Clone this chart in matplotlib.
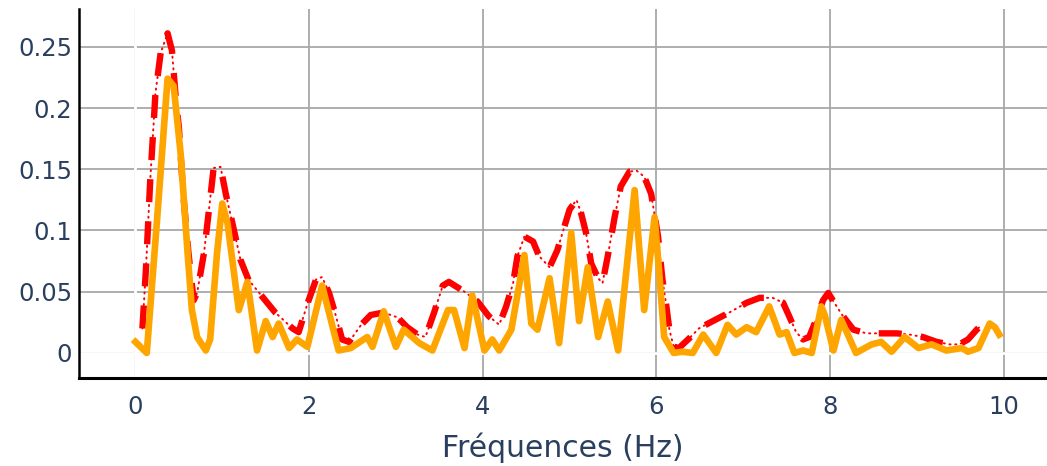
import matplotlib.pyplot as plt

# spectre (orange) : fréquences et amplitudes
f_spec = [0.0, 0.13, 0.25, 0.37, 0.44, 0.52, 0.6, 0.65, 0.71, 0.81, 0.86, 0.94, 1.0,
          1.06, 1.13, 1.19, 1.29, 1.4, 1.5, 1.58, 1.65, 1.77, 1.86, 1.98, 2.15, 2.34,
          2.48, 2.67, 2.73, 2.86, 3.0, 3.09, 3.27, 3.42, 3.6, 3.67, 3.79, 3.88, 4.02,
          4.11, 4.19, 4.33, 4.48, 4.56, 4.63, 4.77, 4.88, 5.02, 5.11, 5.21, 5.33, 5.44,
          5.56, 5.75, 5.86, 5.98, 6.03, 6.09, 6.2, 6.3, 6.42, 6.54, 6.69, 6.82, 6.92,
          7.04, 7.15, 7.3, 7.42, 7.5, 7.59, 7.69, 7.79, 7.9, 7.94, 8.04, 8.13, 8.3,
          8.48, 8.59, 8.71, 8.86, 9.02, 9.17, 9.34, 9.52, 9.59, 9.71, 9.84, 9.9, 9.95]
a_spec = [0.009, 0.0, 0.11, 0.224, 0.218, 0.163, 0.082, 0.035, 0.013, 0.002, 0.011,
          0.082, 0.122, 0.106, 0.068, 0.035, 0.058, 0.002, 0.026, 0.013, 0.024, 0.004,
          0.011, 0.005, 0.055, 0.002, 0.004, 0.013, 0.005, 0.034, 0.005, 0.019, 0.008,
          0.002, 0.035, 0.035, 0.004, 0.047, 0.002, 0.011, 0.002, 0.019, 0.08, 0.024,
          0.019, 0.061, 0.008, 0.098, 0.026, 0.07, 0.013, 0.042, 0.002, 0.133, 0.035,
          0.111, 0.068, 0.013, 0.0, 0.001, 0.0, 0.015, 0.0, 0.023, 0.015, 0.021,
          0.017, 0.038, 0.015, 0.017, 0.0, 0.002, 0.0, 0.038, 0.031, 0.002, 0.027,
          0.0, 0.007, 0.009, 0.001, 0.013, 0.004, 0.007, 0.002, 0.004, 0.001, 0.004,
          0.024, 0.021, 0.015]

# enveloppe (rouge)
f_env = [0.08, 0.12, 0.17, 0.23, 0.29, 0.37, 0.42, 0.46, 0.5, 0.55, 0.61, 0.67, 0.71,
         0.79, 0.85, 0.9, 0.98, 1.04, 1.11, 1.21, 1.3, 1.46, 1.61, 1.81, 1.88, 1.98,
         2.08, 2.15, 2.23, 2.31, 2.38, 2.46, 2.6, 2.71, 2.86, 3.02, 3.13, 3.25, 3.34,
         3.44, 3.54, 3.61, 3.79, 3.94, 4.07, 4.19, 4.27, 4.35, 4.4, 4.48, 4.58, 4.65,
         4.77, 4.86, 4.94, 5.0, 5.08, 5.13, 5.19, 5.25, 5.33, 5.38, 5.44, 5.52, 5.59,
         5.69, 5.77, 5.86, 5.94, 6.02, 6.07, 6.11, 6.15, 6.2, 6.26, 6.38, 6.49, 6.65,
         6.84, 7.04, 7.19, 7.34, 7.46, 7.53, 7.61, 7.69, 7.76, 7.84, 7.92, 7.98, 8.05,
         8.15, 8.27, 8.42, 8.59, 8.77, 8.92, 9.07, 9.23, 9.38, 9.49, 9.59, 9.69, 9.75]
a_env = [0.02, 0.068, 0.141, 0.212, 0.245, 0.261, 0.247, 0.212, 0.184, 0.13, 0.082,
         0.043, 0.049, 0.082, 0.119, 0.151, 0.152, 0.13, 0.108, 0.076, 0.06, 0.046,
         0.033, 0.02, 0.017, 0.04, 0.06, 0.062, 0.049, 0.03, 0.011, 0.009, 0.023,
         0.031, 0.033, 0.029, 0.021, 0.015, 0.013, 0.033, 0.055, 0.058, 0.05, 0.042,
         0.03, 0.023, 0.038, 0.057, 0.079, 0.095, 0.091, 0.079, 0.07, 0.084, 0.103,
         0.117, 0.125, 0.115, 0.098, 0.073, 0.061, 0.057, 0.079, 0.111, 0.136, 0.148,
         0.149, 0.144, 0.13, 0.095, 0.06, 0.041, 0.019, 0.005, 0.004, 0.012, 0.02,
         0.026, 0.033, 0.041, 0.045, 0.045, 0.041, 0.03, 0.017, 0.011, 0.013, 0.027,
         0.043, 0.049, 0.041, 0.03, 0.019, 0.016, 0.016, 0.016, 0.015, 0.013, 0.009,
         0.007, 0.007, 0.011, 0.019, 0.023]

x_ticks = [0, 2, 4, 6, 8, 10]
y_ticks = [0, 0.05, 0.1, 0.15, 0.2, 0.25]
y_labels = ["0", "0.05", "0.1", "0.15", "0.2", "0.25"]

txt = "#2a3f5f"

fig = plt.figure(figsize=(10.47, 4.66), dpi=100)
ax = fig.add_axes([0.0755, 0.189, 0.9245, 0.792])

ax.set_xlim(-0.65, 10.5)
ax.set_ylim(-0.0204, 0.281)

ax.set_xticks(x_ticks)
ax.set_yticks(y_ticks)
ax.set_yticklabels(y_labels)
ax.grid(True, color="#a8a8a8", linewidth=1.3)
ax.set_axisbelow(True)
ax.axvline(0, color="white", linewidth=2, zorder=1)
ax.axhline(0, color="white", linewidth=2, zorder=1)

ax.plot(f_env, a_env, color="red", linewidth=1.4, linestyle=(0, (0.6, 2.4)),
        dash_capstyle="round", zorder=2)
ax.plot(f_env, a_env, color="red", linewidth=4.6, linestyle=(0, (3.6, 3.0)),
        zorder=3)
ax.plot(f_spec, a_spec, color="orange", linewidth=4.8, solid_joinstyle="round",
        zorder=4)

for s in ["top", "right"]:
    ax.spines[s].set_visible(False)
ax.spines["left"].set_linewidth(1.8)
ax.spines["bottom"].set_linewidth(2.2)
ax.tick_params(length=0, labelsize=17.5, labelcolor=txt)
ax.tick_params(axis="x", pad=12)
ax.tick_params(axis="y", pad=5)

ax.set_xlabel("Fréquences (Hz)", fontsize=21.5, color=txt, labelpad=10)

fig.savefig("out.png", dpi=100)
